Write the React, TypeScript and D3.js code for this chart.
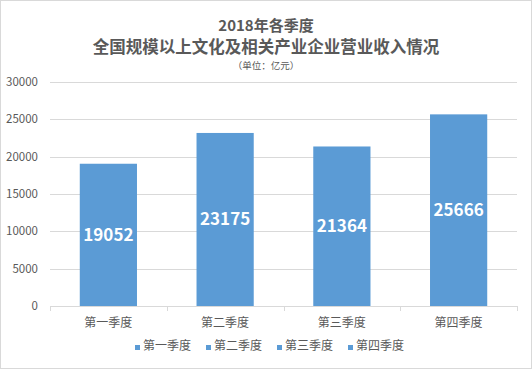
import React, { useEffect, useRef } from 'react';
import * as d3 from 'd3';

const categories = ['第一季度', '第二季度', '第三季度', '第四季度'];
const revenue = [19052, 23175, 21364, 25666];
const yTicks = [0, 5000, 10000, 15000, 20000, 25000, 30000];
const titleLines = ['2018年各季度', '全国规模以上文化及相关产业企业营业收入情况'];
const unitLabel = '（单位：亿元）';

const W = 532;
const H = 369;
const FONT = '"Microsoft YaHei", "Noto Sans CJK SC", "DejaVu Sans", sans-serif';
const BAR = '#5b9bd5';
const TEXT = '#595959';

const App = () => {
  const ref = useRef<SVGSVGElement>(null);

  useEffect(() => {
    const svg = d3.select(ref.current);
    svg.selectAll('*').remove();

    svg.append('rect')
      .attr('x', 0.5).attr('y', 0.5)
      .attr('width', W - 1).attr('height', H - 1)
      .attr('fill', '#fff')
      .attr('stroke', '#d9d9d9');

    const left = 50, right = 517, top = 82, bottom = 306;

    const x = d3.scaleBand().domain(categories).range([left, right]).paddingInner(0.51).paddingOuter(0.255);
    const xOuter = d3.scaleBand().domain(categories).range([left, right]);
    const y = d3.scaleLinear().domain([0, 30000]).range([bottom, top]);

    // titles
    svg.append('text')
      .attr('x', W / 2).attr('y', 31)
      .attr('text-anchor', 'middle')
      .attr('font-family', FONT).attr('font-size', 15).attr('font-weight', 'bold')
      .attr('fill', TEXT)
      .text(titleLines[0]);
    svg.append('text')
      .attr('x', W / 2).attr('y', 53)
      .attr('text-anchor', 'middle')
      .attr('font-family', FONT).attr('font-size', 16.5).attr('font-weight', 'bold')
      .attr('fill', TEXT)
      .text(titleLines[1]);
    svg.append('text')
      .attr('x', W / 2).attr('y', 69)
      .attr('text-anchor', 'middle')
      .attr('font-family', FONT).attr('font-size', 9.5)
      .attr('fill', TEXT)
      .text(unitLabel);

    // gridlines + y labels
    const yAxis = svg.append('g');
    yAxis.selectAll('line')
      .data(yTicks.filter(d => d > 0))
      .enter()
      .append('line')
      .attr('x1', left).attr('x2', right)
      .attr('y1', d => Math.round(y(d)) + 0.5)
      .attr('y2', d => Math.round(y(d)) + 0.5)
      .attr('stroke', '#d9d9d9');
    yAxis.selectAll('text')
      .data(yTicks)
      .enter()
      .append('text')
      .attr('x', 38)
      .attr('y', d => y(d) + 4)
      .attr('text-anchor', 'end')
      .attr('font-family', FONT).attr('font-size', 11.5)
      .attr('fill', TEXT)
      .text(d => d);

    // bars
    svg.selectAll('rect.bar')
      .data(revenue)
      .enter()
      .append('rect')
      .attr('class', 'bar')
      .attr('x', (d, i) => x(categories[i])!)
      .attr('y', d => y(d))
      .attr('width', x.bandwidth())
      .attr('height', d => bottom - y(d))
      .attr('fill', BAR);

    // x axis
    svg.append('line')
      .attr('x1', left).attr('x2', right)
      .attr('y1', bottom + 0.5).attr('y2', bottom + 0.5)
      .attr('stroke', '#d9d9d9');
    svg.selectAll('line.tick')
      .data(categories.concat(['end']))
      .enter()
      .append('line')
      .attr('class', 'tick')
      .attr('x1', (d, i) => Math.round(left + i * xOuter.step()) + 0.5)
      .attr('x2', (d, i) => Math.round(left + i * xOuter.step()) + 0.5)
      .attr('y1', bottom).attr('y2', bottom + 5)
      .attr('stroke', '#d9d9d9');

    svg.selectAll('text.cat')
      .data(categories)
      .enter()
      .append('text')
      .attr('class', 'cat')
      .attr('x', d => xOuter(d)! + xOuter.bandwidth() / 2)
      .attr('y', 327)
      .attr('text-anchor', 'middle')
      .attr('font-family', FONT).attr('font-size', 12)
      .attr('fill', TEXT)
      .text(d => d);

    // value labels
    svg.selectAll('text.val')
      .data(revenue)
      .enter()
      .append('text')
      .attr('class', 'val')
      .attr('x', (d, i) => x(categories[i])! + x.bandwidth() / 2)
      .attr('y', d => (y(d) + bottom) / 2 + 6)
      .attr('text-anchor', 'middle')
      .attr('font-family', FONT).attr('font-size', 17).attr('font-weight', 'bold')
      .attr('fill', '#fff')
      .text(d => d);

    // legend
    const legendX = [135, 206, 277, 348];
    const lg = svg.selectAll('g.legend')
      .data(categories)
      .enter()
      .append('g')
      .attr('class', 'legend')
      .attr('transform', (d, i) => `translate(${legendX[i]},350)`);
    lg.append('rect')
      .attr('x', 0).attr('y', -5)
      .attr('width', 5).attr('height', 5)
      .attr('fill', BAR);
    lg.append('text')
      .attr('x', 8).attr('y', 0)
      .attr('font-family', FONT).attr('font-size', 12)
      .attr('fill', TEXT)
      .text(d => d);
  }, []);

  return (
    <svg ref={ref} width={W} height={H}
      style={{ position: 'absolute', left: 0, top: 0, display: 'block' }} />
  );
};

export default App;
